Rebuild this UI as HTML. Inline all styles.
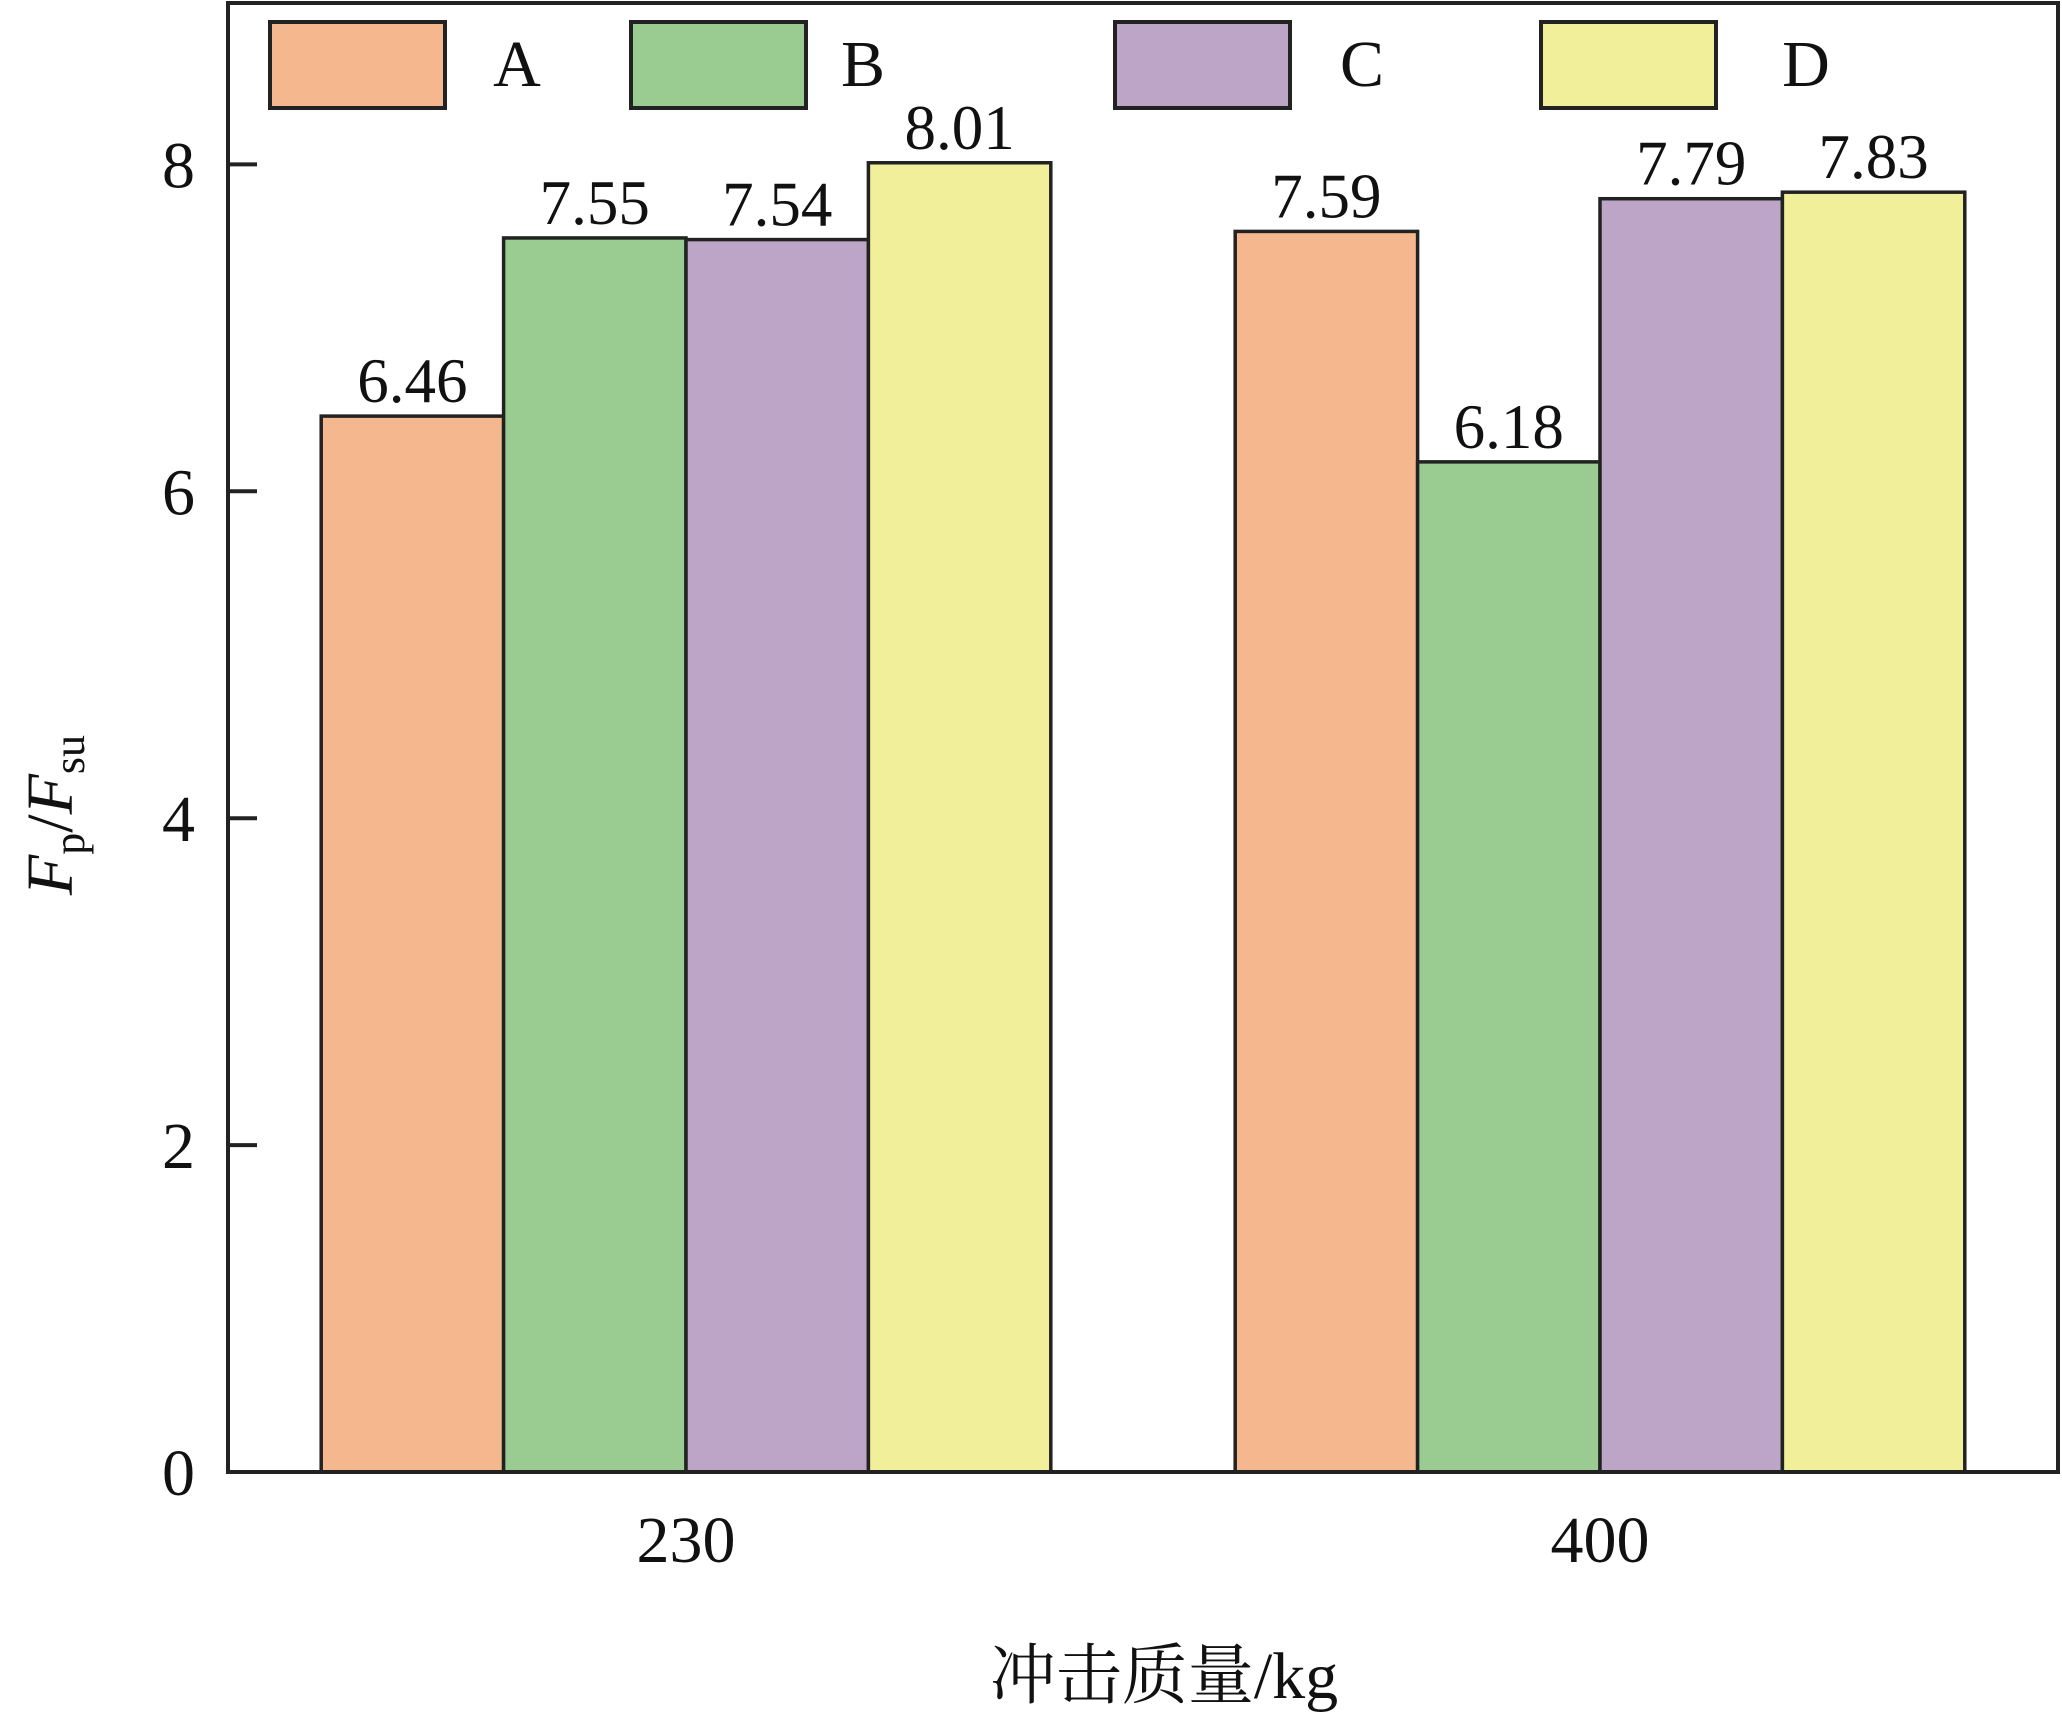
<!DOCTYPE html>
<html><head><meta charset="utf-8"><style>
html,body{margin:0;padding:0;background:#fff;}
svg{display:block;font-family:"Liberation Serif","Noto Serif CJK SC",serif;}
</style></head><body>
<svg id="chart" width="2062" height="1718" viewBox="0 0 2062 1718" xmlns="http://www.w3.org/2000/svg"></svg>
<script>
const categories = ["230", "400"];
const seriesNames = ["A", "B", "C", "D"];
const seriesA = [6.46, 7.59];
const seriesB = [7.55, 6.18];
const seriesC = [7.54, 7.79];
const seriesD = [8.01, 7.83];
const yTicks = [0, 2, 4, 6, 8];

const colors = ["#f5b78e", "#9acb91", "#bda5c8", "#f2ef9a"];
const series = [seriesA, seriesB, seriesC, seriesD];
const svg = document.getElementById('chart');
const NS = "http://www.w3.org/2000/svg";
const L = 228, R = 2058, T = 3, B = 1472;
const yMin = 0, yMax = 8 * (B - T) / (B - 164.4);
function y(v){ return B - (v - yMin) / (yMax - yMin) * (B - T); }
const groupCenters = [686, 1600];
const barW = 182.4;
function x(ci, si){ return groupCenters[ci] + (si - 2) * barW; }
function el(tag, attrs, parent){ const e = document.createElementNS(NS, tag); for (const k in attrs) e.setAttribute(k, attrs[k]); (parent||svg).appendChild(e); return e; }

// bars
for (let s = 0; s < series.length; s++) {
  for (let c = 0; c < categories.length; c++) {
    const v = series[s][c];
    const r = el('rect', {x: x(c, s), y: y(v), width: barW, height: B - y(v), fill: colors[s], stroke: '#222', 'stroke-width': 3.5});
    
    
    const t = el('text', {x: x(c, s) + barW / 2, y: y(v) - 14, 'font-size': 63, 'text-anchor': 'middle', fill: '#111'});
    t.textContent = v.toFixed(2);
    
    
  }
}
// frame
const f = el('rect', {x: L, y: T, width: R - L, height: B - T, fill: 'none', stroke: '#222', 'stroke-width': 4});


// y ticks
for (const tv of yTicks) {
  const ln = el('line', {x1: L, x2: L + 29, y1: y(tv), y2: y(tv), stroke: '#222', 'stroke-width': 4});
  
  
  const t = el('text', {x: 195, y: y(tv) + 23, 'font-size': 66, 'text-anchor': 'end', fill: '#111'});
  t.textContent = tv;
  
  
}
// x labels
for (let c = 0; c < categories.length; c++) {
  const t = el('text', {x: groupCenters[c], y: 1562, 'font-size': 66, 'text-anchor': 'middle', fill: '#111'});
  t.textContent = categories[c];
  
  
}
// legend
const legBoxX = [270, 631, 1115, 1541];
const legTextX = [517, 863, 1362, 1806];
for (let s = 0; s < seriesNames.length; s++) {
  const r = el('rect', {x: legBoxX[s], y: 22, width: 175, height: 86, fill: colors[s], stroke: '#222', 'stroke-width': 4});
  
  
  const t = el('text', {x: legTextX[s], y: 86, 'font-size': 66, 'text-anchor': 'middle', fill: '#111'});
  t.textContent = seriesNames[s];
  
  
}
</script>
<svg style="position:absolute;left:0;top:0" width="2062" height="1718" xmlns="http://www.w3.org/2000/svg">
<text x="1164" y="1698" font-size="66" text-anchor="middle" fill="#111" font-family="'Liberation Serif','Noto Serif CJK SC',serif">冲击质量/kg</text>
<text transform="translate(72,815) rotate(-90)" font-size="66" text-anchor="middle" fill="#111" font-family="'Liberation Serif',serif"><tspan font-style="italic">F</tspan><tspan font-size="44" dy="12">p</tspan><tspan dy="-12">/</tspan><tspan font-style="italic">F</tspan><tspan font-size="44" dy="12">su</tspan></text>
</svg>
</body></html>
